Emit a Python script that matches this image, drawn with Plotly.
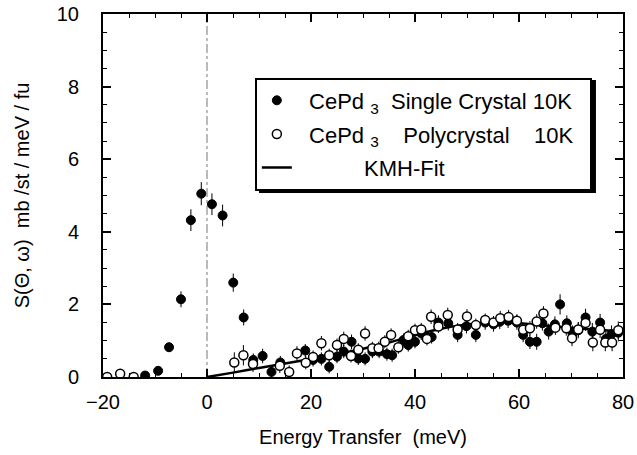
import plotly.graph_objects as go

# ---- data ----
single_x = [-11.9, -9.4, -7.3, -5.0, -3.1, -1.1, 0.95, 3.0, 5.05, 7.05, 8.9, 10.7, 12.4, 14.1,
            18.9, 20.4, 22.0, 23.5, 25.0, 26.3, 27.8, 29.1, 30.4, 31.8, 33.1, 34.6, 35.6,
            37.8, 38.7, 40.0, 41.2, 42.3, 43.2, 44.5, 46.4, 48.2, 49.9, 51.7, 53.5, 55.1,
            56.3, 57.9, 59.6, 60.8, 62.1, 63.4, 64.5, 65.7, 66.9, 67.9, 69.2, 70.3, 71.4,
            72.8, 74.1, 75.6, 76.7, 77.8, 79.1]
single_y = [0.04, 0.17, 0.82, 2.14, 4.32, 5.05, 4.76, 4.45, 2.60, 1.64, 0.47, 0.58, 0.14, 0.40,
            0.73, 0.47, 0.50, 0.28, 0.56, 0.70, 0.97, 0.51, 0.50, 0.70, 0.70, 0.63, 0.60,
            1.02, 0.88, 0.97, 1.20, 1.10, 1.10, 1.50, 1.48, 1.16, 1.40, 1.16, 1.50, 1.45,
            1.52, 1.55, 1.50, 1.16, 0.97, 0.97, 1.48, 1.25, 1.45, 2.00, 1.48, 1.20, 1.29,
            1.64, 1.25, 1.50, 1.05, 1.18, 1.22]
single_err = [0.05, 0.08, 0.12, 0.22, 0.30, 0.32, 0.30, 0.30, 0.25, 0.22, 0.18, 0.20, 0.15, 0.18,
              0.18, 0.18, 0.18, 0.18, 0.18, 0.18, 0.20, 0.18, 0.18, 0.18, 0.18, 0.18, 0.18,
              0.18, 0.18, 0.18, 0.18, 0.18, 0.18, 0.20, 0.20, 0.20, 0.20, 0.20, 0.20, 0.20,
              0.20, 0.20, 0.20, 0.20, 0.20, 0.22, 0.20, 0.22, 0.22, 0.28, 0.22, 0.22, 0.22,
              0.24, 0.24, 0.24, 0.24, 0.24, 0.24]

poly_x = [-19.2, -16.7, -14.1, 5.25, 7.0, 8.85, 14.0, 15.8, 17.3, 19.0, 20.4, 22.0, 23.5, 25.0,
          26.3, 27.7, 29.1, 30.4, 31.8, 33.0, 34.2, 35.4, 36.8, 38.7, 40.0, 41.2, 42.3, 43.1,
          44.5, 46.3, 48.2, 50.0, 51.7, 53.5, 55.1, 56.4, 58.0, 59.6, 60.8, 62.1, 63.4, 64.7,
          67.0, 69.1, 70.2, 71.4, 72.8, 74.2, 75.6, 76.6, 77.9, 79.1]
poly_y = [0.00, 0.09, 0.00, 0.40, 0.60, 0.36, 0.31, 0.14, 0.65, 0.39, 0.55, 0.93, 0.60, 0.88,
          1.05, 0.58, 0.75, 1.20, 0.79, 0.79, 0.97, 1.16, 0.82, 1.12, 1.29, 1.31, 1.05, 1.66,
          1.39, 1.71, 1.31, 1.67, 1.43, 1.57, 1.50, 1.62, 1.65, 1.55, 1.30, 1.34, 1.53, 1.75,
          1.36, 1.34, 1.07, 1.31, 1.49, 0.95, 1.30, 0.95, 0.95, 1.29]
poly_err = [0.04, 0.05, 0.04, 0.28, 0.28, 0.22, 0.20, 0.18, 0.20, 0.18, 0.18, 0.20, 0.18, 0.18,
            0.20, 0.18, 0.18, 0.20, 0.18, 0.18, 0.18, 0.18, 0.18, 0.18, 0.18, 0.18, 0.18, 0.20,
            0.18, 0.20, 0.18, 0.20, 0.18, 0.18, 0.18, 0.20, 0.20, 0.18, 0.20, 0.20, 0.20, 0.20,
            0.20, 0.20, 0.22, 0.20, 0.22, 0.24, 0.22, 0.24, 0.24, 0.24]

fit_x = [0, 5, 10, 15, 20, 25, 30, 35, 40, 45, 50, 55, 60, 65, 70, 75, 80]
fit_y = [0.0, 0.12, 0.25, 0.37, 0.50, 0.63, 0.78, 0.95, 1.15, 1.33, 1.45, 1.50, 1.48, 1.42,
         1.36, 1.30, 1.25]

x_ticks = [-20, 0, 20, 40, 60, 80]
y_ticks = [0, 2, 4, 6, 8, 10]

NB = "\u00a0"
FONT = "Liberation Sans, Arial, Helvetica, sans-serif"

fig = go.Figure()

fig.add_trace(go.Scatter(
    x=fit_x, y=fit_y, mode="lines", line=dict(color="black", width=2.5, shape="spline"),
    name=NB * 11 + "KMH-Fit", legendrank=3, legendgroup="c"))

fig.add_trace(go.Scatter(
    x=single_x, y=single_y, mode="markers",
    marker=dict(symbol="circle", size=9, color="black", line=dict(color="black", width=1)),
    error_y=dict(type="data", array=single_err, color="black", thickness=1, width=0),
    name=NB * 2 + "CePd" + NB + "<sub>3</sub>" + NB * 2 + "Single Crystal 10K" + NB * 2,
    legendrank=1, legendgroup="a"))

fig.add_trace(go.Scatter(
    x=poly_x, y=poly_y, mode="markers",
    marker=dict(symbol="circle", size=9, color="white", line=dict(color="black", width=1.5)),
    error_y=dict(type="data", array=poly_err, color="black", thickness=1, width=0),
    name=NB * 2 + "CePd" + NB + "<sub>3</sub>" + NB * 4 + "Polycrystal" + NB * 4 + "10K",
    legendrank=2, legendgroup="b"))

fig.add_vline(x=0, line=dict(color="#777777", width=1, dash="dashdot"), layer="below")

# drop shadow of the legend box (offset a few pixels right and down)
fig.add_shape(type="rect", xref="paper", yref="paper",
              x0=0.300, x1=0.948, y0=0.507, y1=0.818,
              fillcolor="black", line=dict(width=0), layer="above")

axis_common = dict(
    showline=True, linecolor="black", linewidth=2, mirror="allticks",
    ticks="inside", ticklen=8, tickwidth=1.5, tickcolor="black",
    showgrid=False, zeroline=False, automargin=False,
    tickfont=dict(family=FONT, size=20, color="black"),
)

fig.update_xaxes(
    range=[-20, 80], tickvals=x_ticks,
    minor=dict(dtick=5, ticks="inside", ticklen=4, tickcolor="black", tickwidth=1.2),
    ticklabelstandoff=6,
    title=dict(text="Energy Transfer" + NB * 2 + "(meV)", font=dict(family=FONT, size=20, color="black"),
               standoff=18),
    **axis_common)
fig.update_yaxes(
    range=[0, 10], tickvals=y_ticks,
    minor=dict(dtick=0.5, ticks="inside", ticklen=4, tickcolor="black", tickwidth=1.2),
    ticklabelstandoff=18,
    title=dict(text="S(\u0398, \u03c9)" + NB * 2 + "mb /st / meV / fu",
               font=dict(family=FONT, size=20, color="black"), standoff=22),
    **axis_common)

fig.update_layout(
    width=637, height=455,
    margin=dict(l=103, r=14, t=14, b=78),
    paper_bgcolor="white", plot_bgcolor="white",
    font=dict(family=FONT, color="black"),
    showlegend=True,
    legend=dict(
        x=0.292, y=0.825, xanchor="left", yanchor="top",
        bgcolor="white", bordercolor="black", borderwidth=2,
        font=dict(family=FONT, size=22, color="black"),
        tracegroupgap=2, traceorder="grouped",
    ),
)

fig.write_html("out.html")
